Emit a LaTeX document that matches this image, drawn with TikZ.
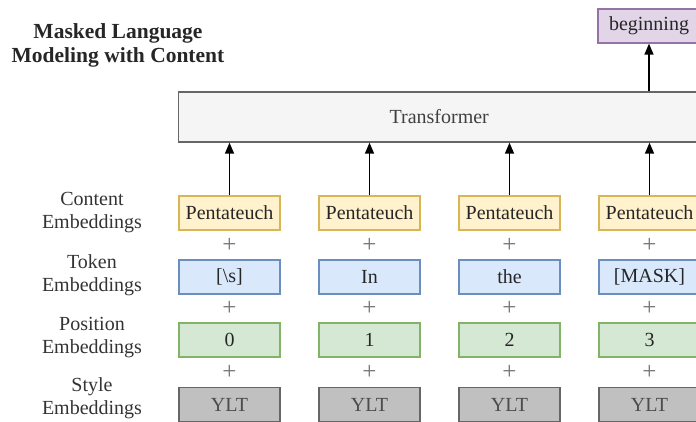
\documentclass[tikz,border=0pt]{standalone}
\usepackage{fontspec}
\setmainfont{Liberation Serif}
\usetikzlibrary{arrows.meta}
\definecolor{cfill}{HTML}{FFF2CC}\definecolor{cdraw}{HTML}{D6B656}
\definecolor{tfill}{HTML}{DAE8FC}\definecolor{tdraw}{HTML}{6C8EBF}
\definecolor{pfill}{HTML}{D5E8D4}\definecolor{pdraw}{HTML}{82B366}
\definecolor{sfill}{HTML}{C0C0C0}\definecolor{sdraw}{HTML}{666666}
\definecolor{xfill}{HTML}{F5F5F5}\definecolor{xdraw}{HTML}{666666}
\definecolor{bfill}{HTML}{E1D5E7}\definecolor{bdraw}{HTML}{9673A6}
\tikzset{
  emb/.style={draw, line width=1.3pt, minimum width=101pt, minimum height=34pt, inner sep=0pt,
    font=\fontsize{20}{22}\selectfont, text=black!85},
  cbox/.style={emb, fill=cfill, draw=cdraw},
  tbox/.style={emb, fill=tfill, draw=tdraw},
  pbox/.style={emb, fill=pfill, draw=pdraw},
  sbox/.style={emb, fill=sfill, draw=sdraw, text=black!70},
  lbl/.style={align=center, font=\fontsize{20}{23}\selectfont, text=black!80, inner sep=0pt},
  plus/.style={font=\fontsize{25}{25}\selectfont, text=black!55, inner sep=0pt},
  arr/.style={line width=1.5pt, -{Triangle[length=11pt,width=9pt]}},
}
\begin{document}
\begin{tikzpicture}[x=1pt,y=-1pt]
\useasboundingbox (0,0) rectangle (696,422);
\node[font=\bfseries\fontsize{21.5}{24}\selectfont, align=center, text=black!85] (title) at (118,45) {Masked Language\\Modeling with Content};
% transformer
\node[draw=xdraw, fill=xfill, line width=1.3pt, minimum width=521.5pt, minimum height=50pt, inner sep=0pt,
  font=\fontsize{20}{22}\selectfont, text=black!75] (trans) at (439.25,117) {Transformer};
\node[draw=bdraw, fill=bfill, line width=1.3pt, minimum width=102pt, minimum height=34pt, inner sep=0pt,
  font=\fontsize{20}{22}\selectfont, text=black!85] (beg) at (649,26) {beginning};
% labels
\node[lbl] (l1) at (92,213) {Content\\Embeddings};
\node[lbl] (l2) at (92,275) {Token\\Embeddings};
\node[lbl] (l3) at (92,337.5) {Position\\Embeddings};
\node[lbl] (l4) at (92,398) {Style\\Embeddings};
% columns
\foreach \i/\x/\tok/\pos in {1/229.5/{[\textbackslash s]}/0, 2/369.5/In/1, 3/509.5/the/2, 4/649.5/{[MASK]}/3}{
  \node[cbox] (c\i) at (\x,213) {Pentateuch};
  \node[tbox] (t\i) at (\x,277) {\tok};
  \node[pbox] (p\i) at (\x,340) {\pos};
  \node[sbox] (s\i) at (\x,404.5) {YLT};
  \node[plus] (pa\i) at (\x,245) {+};
  \node[plus] (pb\i) at (\x,308.5) {+};
  \node[plus] (pc\i) at (\x,372.5) {+};
  \draw[arr] (c\i.north) -- (c\i.north |- trans.south);
}
\draw[arr] (beg.south |- trans.north) -- (beg.south);
\end{tikzpicture}
\end{document}
